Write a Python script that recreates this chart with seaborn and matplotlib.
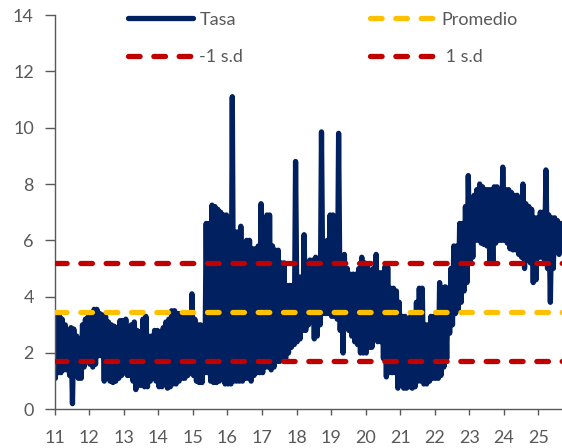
import pandas as pd
import numpy as np
import matplotlib.pyplot as plt
import matplotlib.dates as mdates
import seaborn as sns
from matplotlib.lines import Line2D

# ----------------------
# DATA (monthly low / high, Jan-2011 .. Aug-2025)
# ----------------------
monthly_low = [
    1.1, 1.3, 1.3, 1.4, 1.4, 1.2, 0.2, 1.4, 1.1, 1.1, 1.5, 1.7,      # 2011
    1.6, 1.5, 1.6, 1.9, 1.9, 1.0, 1.2, 1.0, 0.95, 1.0, 1.1, 1.2,     # 2012
    1.3, 1.2, 1.2, 1.0, 0.7, 0.85, 0.85, 0.8, 0.8, 1.0, 1.1, 1.0,    # 2013
    0.8, 0.8, 0.9, 0.75, 0.8, 0.9, 0.9, 1.0, 1.1, 1.1, 1.2, 1.3,     # 2014
    1.2, 1.0, 0.95, 0.95, 1.3, 1.3, 1.0, 0.95, 0.95, 1.0, 1.1, 0.9,  # 2015
    0.9, 0.9, 1.0, 1.0, 1.0, 1.0, 1.1, 1.1, 1.0, 1.2, 1.3, 1.3,      # 2016
    1.3, 1.5, 1.5, 1.4, 1.5, 1.7, 1.7, 1.8, 1.8, 2.0, 2.2, 2.3,      # 2017
    2.4, 2.5, 2.8, 2.8, 3.0, 3.2, 2.5, 2.6, 3.0, 3.4, 3.4, 3.4,      # 2018
    3.3, 3.3, 3.2, 2.8, 2.0, 3.0, 2.8, 2.6, 2.4, 2.3, 2.0, 2.0,      # 2019
    2.0, 2.2, 2.2, 2.8, 2.4, 2.4, 1.8, 1.15, 1.3, 1.3, 1.3, 0.75,    # 2020
    1.0, 0.75, 0.75, 0.8, 0.75, 0.8, 1.0, 1.0, 0.9, 0.9, 1.0, 1.1,   # 2021
    1.1, 1.1, 1.2, 1.5, 1.8, 2.7, 3.0, 3.4, 3.5, 3.8, 4.2, 4.5,      # 2022
    5.2, 5.4, 6.0, 6.0, 5.9, 5.85, 5.8, 5.2, 5.2, 5.9, 6.0, 6.0,     # 2023
    6.0, 5.9, 5.7, 5.66, 5.66, 5.5, 5.4, 5.0, 5.3, 5.2, 4.5, 4.6,    # 2024
    5.4, 5.4, 5.2, 5.0, 3.8, 5.0, 5.9, 5.5,                          # 2025
]
monthly_high = [
    3.3, 3.3, 3.2, 3.0, 2.8, 2.9, 2.85, 2.6, 2.5, 3.0, 3.2, 3.3,     # 2011
    3.4, 3.55, 3.55, 3.4, 3.35, 3.3, 3.1, 3.0, 2.95, 2.9, 3.15, 3.15, # 2012
    3.2, 2.8, 3.0, 3.1, 2.8, 2.75, 3.2, 3.3, 2.6, 2.6, 2.8, 2.8,     # 2013
    2.75, 2.9, 3.1, 3.2, 3.5, 3.5, 3.4, 3.4, 3.4, 3.3, 3.3, 4.1,     # 2014
    3.2, 3.0, 3.0, 2.8, 6.6, 6.6, 7.25, 7.2, 7.1, 7.0, 6.9, 6.9,     # 2015
    6.8, 11.1, 6.3, 6.3, 6.5, 5.2, 6.0, 6.0, 5.7, 5.7, 5.8, 7.3,     # 2016
    6.0, 6.9, 6.9, 5.8, 5.65, 5.65, 5.2, 5.2, 4.4, 4.4, 4.4, 8.8,    # 2017
    4.7, 4.7, 6.2, 4.8, 5.3, 5.3, 5.4, 5.2, 9.85, 5.4, 6.0, 6.9,     # 2018
    6.9, 5.2, 9.8, 5.0, 5.5, 5.0, 4.8, 4.8, 4.8, 5.0, 5.4, 5.2,      # 2019
    5.1, 4.9, 5.0, 5.5, 4.85, 4.85, 5.05, 5.05, 4.3, 4.3, 4.2, 3.8,  # 2020
    3.3, 3.3, 3.2, 3.3, 3.4, 3.8, 4.3, 4.3, 3.0, 3.0, 3.3, 3.3,      # 2021
    3.3, 4.5, 4.3, 4.35, 4.3, 5.0, 5.8, 5.8, 6.6, 6.6, 7.2, 8.3,     # 2022
    7.4, 7.6, 7.8, 8.0, 7.9, 7.8, 7.8, 7.8, 7.9, 7.9, 7.8, 8.6,      # 2023
    7.8, 7.8, 7.7, 7.6, 7.6, 7.4, 8.0, 7.3, 7.2, 7.1, 6.8, 6.8,      # 2024
    7.0, 7.0, 8.5, 6.9, 6.8, 6.8, 6.7, 6.6,                          # 2025
]
promedio = 3.47
desv_est = 1.74
year_labels = ["11", "12", "13", "14", "15", "16", "17", "18", "19", "20",
               "21", "22", "23", "24", "25"]

# build the series: a low and a high point inside each month
months = pd.date_range("2011-01-01", periods=len(monthly_high), freq="MS")
fechas, tasa = [], []
for m, lo, hi in zip(months, monthly_low, monthly_high):
    fechas += [m + pd.Timedelta(days=7), m + pd.Timedelta(days=21)]
    tasa += [lo, hi]
df = pd.DataFrame({"fecha": fechas, "tasa": tasa})

# ----------------------
# STYLE
# ----------------------
sns.set_style("white")
plt.rcParams["font.family"] = ["Lato", "DejaVu Sans"]
gray = "#595959"
navy = "#002060"
red = "#C00000"
yellow = "#FFC000"

fig = plt.figure(figsize=(5.62, 4.48), dpi=100)
ax = fig.add_axes([0.0973, 0.0864, 0.9027, 0.880])

sns.lineplot(data=df, x="fecha", y="tasa", ax=ax, color=navy, lw=3.8,
             solid_joinstyle="round", solid_capstyle="round", zorder=2)

dash = dict(lw=3.8, dashes=(2.2, 2.6), dash_capstyle="round", zorder=3)
ax.axhline(promedio, color=yellow, **dash)
ax.axhline(promedio - desv_est, color=red, **dash)
ax.axhline(promedio + desv_est, color=red, **dash)

# ----------------------
# AXES
# ----------------------
ax.set_ylim(0, 14)
ax.set_yticks(range(0, 15, 2))
ax.set_xlim(pd.Timestamp("2011-01-01"), pd.Timestamp("2025-09-08"))
ticks = pd.date_range("2011-01-01", periods=len(year_labels), freq="YS")
ax.set_xticks(ticks)
ax.set_xticklabels(year_labels)
ax.set_xlabel("")
ax.set_ylabel("")

for side in ["top", "right"]:
    ax.spines[side].set_visible(False)
for side in ["left", "bottom"]:
    ax.spines[side].set_color(gray)
    ax.spines[side].set_linewidth(1.0)

ax.tick_params(axis="y", direction="out", length=7, width=1.0, color=gray,
               labelcolor=gray, labelsize=13, pad=8, left=True)
ax.tick_params(axis="x", direction="out", length=4, width=1.0, color=gray,
               labelcolor=gray, labelsize=13, pad=11, bottom=True)

# ----------------------
# LEGEND
# ----------------------
handles = [
    Line2D([], [], color=navy, lw=3.8, solid_capstyle="round"),
    Line2D([], [], color=red, lw=3.8, dashes=(2.2, 2.6), dash_capstyle="round"),
    Line2D([], [], color=yellow, lw=3.8, dashes=(2.2, 2.6), dash_capstyle="round"),
    Line2D([], [], color=red, lw=3.8, dashes=(2.2, 2.6), dash_capstyle="round"),
]
labels = ["Tasa", "-1 s.d", "Promedio", " 1 s.d"]
leg = fig.legend(handles, labels, ncol=2, frameon=False, loc="upper left",
                 bbox_to_anchor=(0.228, 0.974), fontsize=13, handlelength=3.6,
                 handletextpad=0.35, columnspacing=7.0, labelspacing=1.2,
                 borderpad=0, borderaxespad=0)
for t in leg.get_texts():
    t.set_color(gray)

fig.savefig("out.png", dpi=100)
